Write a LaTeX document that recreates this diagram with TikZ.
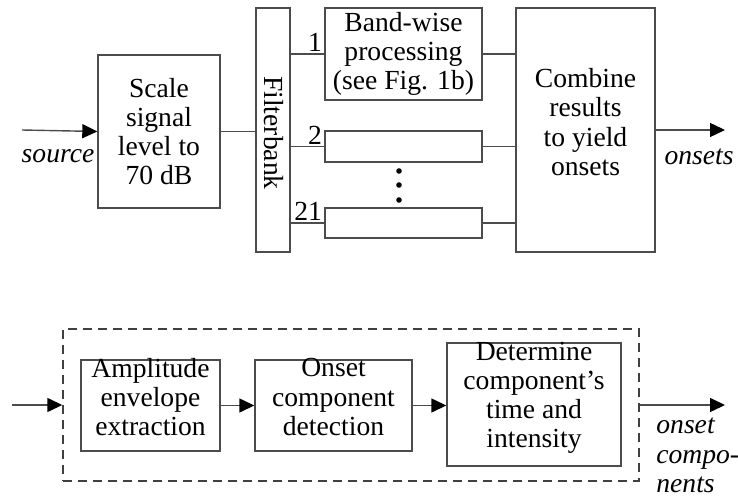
\documentclass[tikz,border=0pt]{standalone}
\usepackage{fontspec}
\setmainfont{Liberation Serif}
\usetikzlibrary{arrows.meta}
\begin{document}
\begin{tikzpicture}[x=0.5pt,y=-0.5pt,
  font=\fontsize{13.8}{14.6}\selectfont,
  line/.style={draw=black!70,line width=0.7pt},
  box/.style={line, rectangle, inner sep=0pt, align=center},
  arr/.style={line, -{Triangle[length=7.5pt,width=7pt,black]}},
  lbl/.style={inner sep=0pt, font=\fontsize{13.8}{14.6}\selectfont\itshape},
  num/.style={inner sep=1pt, anchor=south east}]
\useasboundingbox (0,0) rectangle (738,497);

% ---- overall structure ----
\node[box, minimum width=61pt, minimum height=76.5pt] (scale) at (159,131.5) {Scale\\signal\\level to\\70 dB};
\node[box, minimum width=17pt, minimum height=122pt] (fb) at (273,130) {};
\node[inner sep=0pt, rotate=-90] (fbtxt) at (274,133) {Filterbank};
\node[box, minimum width=78.5pt, minimum height=46pt] (b1) at (403.5,54) {Band-wise\\processing\\(see Fig. 1b)};
\node[box, minimum width=78.5pt, minimum height=15.5pt] (b2) at (403.5,146.5) {};
\node[box, minimum width=78.5pt, minimum height=15pt] (b21) at (403.5,223) {};
\node[box, minimum width=69.5pt, minimum height=122pt] (comb) at (585.5,130) {};
\node[inner sep=0pt, align=center] (combtxt) at (585.5,122) {Combine\\results\\to yield\\onsets};

\coordinate (src) at (22,130);
\coordinate (out) at (725,130);
\draw[arr] (src) -- (scale.west);
\node[lbl] (srclbl) at (58,156) {source};
\draw[line] (scale.east) -- (scale.east -| fb.west);
\draw[arr] (comb.east |- out) -- (out);
\node[lbl] (outlbl) at (699,157) {onsets};

\foreach \b/\n in {b1/1, b2/2, b21/21}{
  \draw[line] (fb.east |- \b.west) -- (\b.west);
  \draw[line] (\b.east) -- (\b.east -| comb.west);
  \node[num] at (\b.west) {\n};
}
\foreach \y/\k in {171/d1,185/d2,200/d3}
  \fill (399,\y) circle[radius=1.4pt] coordinate (\k);

% ---- band-wise processing ----
\node[draw=black!75, dashed, dash pattern=on 4.5pt off 3pt, line width=0.7pt,
      minimum width=288pt, minimum height=76pt, inner sep=0pt] (grp) at (351,405) {};
\node[box, minimum width=69.5pt, minimum height=45.5pt] (amp) at (150.5,405.5) {};
\node[inner sep=0pt, align=center] (amptxt) at (150.5,397) {Amplitude\\envelope\\extraction};
\node[box, minimum width=78.5pt, minimum height=45.5pt] (ons) at (333.5,405.5) {};
\node[inner sep=0pt, align=center] (onstxt) at (333.5,397) {Onset\\component\\detection};
\node[box, minimum width=87pt, minimum height=61.5pt] (det) at (534,404.5) {};
\node[inner sep=0pt, align=center] (dettxt) at (534,398) {Determine\\component’s\\time and\\intensity};

\coordinate (in2) at (12,405);
\coordinate (out2) at (725,405);
\draw[arr] (in2) -- (grp.west |- in2);
\draw[arr] (amp.east) -- (ons.west);
\draw[arr] (ons.east) -- (det.west |- ons.east);
\draw[arr] (grp.east |- out2) -- (out2);
\node[lbl, anchor=north west, align=left] (out2lbl) at (656,418) {onset\\compo-\\nents};
\end{tikzpicture}
\end{document}
